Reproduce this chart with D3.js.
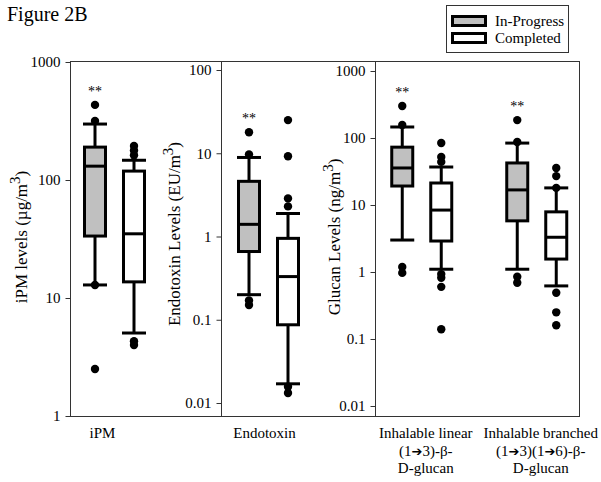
<!DOCTYPE html>
<html>
<head>
<meta charset="utf-8">
<script src="https://cdn.jsdelivr.net/npm/d3@7"></script>
<style>
  html, body { margin: 0; padding: 0; background: #fff; }
  svg { display: block; }
  svg text { font-family: "Liberation Serif", "Times New Roman", serif; }
  svg text tspan.arrow { font-family: "DejaVu Sans", sans-serif; }
</style>
</head>
<body>
<svg id="chart" width="601" height="482"></svg>
<script>
// ---------------- DATA ----------------
const panels = ["iPM", "Endotoxin", "Glucan"];
const categories = ["iPM", "Endotoxin", "linear", "branched"];
const categoryPanel = [0, 1, 2, 2];
const categoryLabels = [
  ["iPM"],
  ["Endotoxin"],
  ["Inhalable linear", "(1\u27943)-\u03b2-", "D-glucan"],
  ["Inhalable branched", "(1\u27943)(1\u27946)-\u03b2-", "D-glucan"]
];
const series = ["In-Progress", "Completed"];

// one entry per box: category index, series index
const boxCategory = [0, 0, 1, 1, 2, 2, 3, 3];
const boxSeries   = [0, 1, 0, 1, 0, 1, 0, 1];
const whiskerLow  = [12.9, 5.05, 0.20, 0.017, 3.0, 1.1, 1.1, 0.62];
const q1          = [33.5, 13.7, 0.66, 0.087, 19.2, 2.9, 5.8, 1.56];
const median      = [131, 35, 1.4, 0.33, 35.7, 8.4, 16.8, 3.3];
const q3          = [190, 119, 4.6, 0.95, 73, 21.3, 42.4, 7.9];
const whiskerHigh = [298, 147, 8.9, 1.89, 146, 36.9, 84, 18];
const outliers = [
  [433, 316, 12.9, 2.5],
  [194, 178, 162, 4.3, 4.0],
  [17.9, 9.7, 0.17, 0.15],
  [25, 9.2, 2.87, 2.3, 0.0157, 0.0132],
  [300, 156, 1.19, 0.97],
  [84, 52, 44, 0.93, 0.82, 0.6, 0.14],
  [185, 87, 0.85, 0.69],
  [35.7, 27, 18, 0.49, 0.25, 0.16]
];
const significant = ["**", "", "**", "", "**", "", "**", ""];

const yDomains = [[1, 1000], [0.01, 100], [0.01, 1000]];
const yTicks = [[1, 10, 100, 1000], [0.01, 0.1, 1, 10, 100], [0.01, 0.1, 1, 10, 100, 1000]];
const yTitles = [
  ["iPM levels (\u00b5g/m", "3", ")"],
  ["Endotoxin Levels (EU/m", "3", ")"],
  ["Glucan Levels (ng/m", "3", ")"]
];
const figureTitle = "Figure 2B";

// ---------------- LAYOUT ----------------
const frameTop = 61, frameBottom = 416;
const panelX = [[70, 221], [221, 375], [375, 579]];
const yRanges = [[416, 62], [403, 70], [406, 71]];
const panelCatRange = [[114.5, 114.5], [268.5, 268.5], [421.75, 536.75]];
const titleX = [27, 180, 340];
const titleCenterY = [237, 234, 237];
const boxW = 21;

const svg = d3.select("#chart");
const ink = "#000";
const frameColor = "#333";

// Title
svg.append("text").attr("x", 7).attr("y", 21).attr("font-size", 20).attr("fill", ink).text(figureTitle);

// scales
const yScales = yDomains.map((d, i) => d3.scaleLog().domain(d).range(yRanges[i]));
const xScales = panels.map((p, i) => {
  const cats = categories.filter((c, k) => categoryPanel[k] === i);
  return d3.scalePoint().domain(cats).range(panelCatRange[i]).align(0.5);
});
const sScale = d3.scaleBand().domain(series).range([-31.5, 31.5]).paddingInner(15 / 39);
const fills = d3.scaleOrdinal().domain(series).range(["#c0c0c0", "#ffffff"]);

// frame
const frame = svg.append("g").attr("stroke", frameColor).attr("stroke-width", 1).attr("fill", "none");
frame.append("line").attr("x1", panelX[0][0]).attr("x2", panelX[2][1]).attr("y1", frameTop + 0.5).attr("y2", frameTop + 0.5);
frame.append("line").attr("x1", panelX[0][0]).attr("x2", panelX[2][1]).attr("y1", frameBottom + 0.5).attr("y2", frameBottom + 0.5);
[panelX[0][0], panelX[1][0], panelX[2][0], panelX[2][1]].forEach(x => {
  frame.append("line").attr("x1", x + 0.5).attr("x2", x + 0.5).attr("y1", frameTop).attr("y2", frameBottom + 1);
});

// axes
panels.forEach((p, i) => {
  const axis = d3.axisLeft(yScales[i]).tickValues(yTicks[i]).tickFormat(d3.format("~g"))
    .tickSize(5).tickSizeOuter(0).tickPadding(5);
  const g = svg.append("g").attr("transform", `translate(${panelX[i][0] + 0.5},0)`).call(axis);
  g.select(".domain").remove();
  g.selectAll(".tick line").attr("stroke", frameColor);
  g.selectAll(".tick text").attr("font-size", 15).attr("fill", ink);

  const t = svg.append("text")
    .attr("transform", `translate(${titleX[i]},${titleCenterY[i]}) rotate(-90)`)
    .attr("text-anchor", "middle")
    .attr("font-size", 17).attr("fill", ink);
  t.append("tspan").text(yTitles[i][0]);
  t.append("tspan").attr("dy", -7).attr("font-size", 15).text(yTitles[i][1]);
  t.append("tspan").attr("dy", 7).text(yTitles[i][2]);
});

// boxes
const boxes = d3.range(boxCategory.length).map(k => {
  const c = boxCategory[k], p = categoryPanel[c];
  return {
    k, p, s: series[boxSeries[k]],
    cx: xScales[p](categories[c]) + sScale(series[boxSeries[k]]) + sScale.bandwidth() / 2,
    y: yScales[p]
  };
});

const gB = svg.append("g").attr("stroke", ink).attr("stroke-width", 3);
boxes.forEach(b => {
  const k = b.k, y = b.y, cx = b.cx;
  gB.append("line").attr("x1", cx).attr("x2", cx).attr("y1", y(whiskerHigh[k])).attr("y2", y(q3[k]));
  gB.append("line").attr("x1", cx).attr("x2", cx).attr("y1", y(q1[k])).attr("y2", y(whiskerLow[k]));
  gB.append("line").attr("x1", cx - 12).attr("x2", cx + 12).attr("y1", y(whiskerHigh[k])).attr("y2", y(whiskerHigh[k]));
  gB.append("line").attr("x1", cx - 12).attr("x2", cx + 12).attr("y1", y(whiskerLow[k])).attr("y2", y(whiskerLow[k]));
  gB.append("rect").attr("x", cx - boxW / 2).attr("width", boxW)
    .attr("y", y(q3[k])).attr("height", y(q1[k]) - y(q3[k]))
    .attr("fill", fills(b.s));
  gB.append("line").attr("x1", cx - boxW / 2).attr("x2", cx + boxW / 2).attr("y1", y(median[k])).attr("y2", y(median[k]));
  outliers[k].forEach(v => {
    svg.append("circle").attr("cx", cx).attr("cy", y(v)).attr("r", 4.2).attr("fill", ink);
  });
  if (significant[k]) {
    svg.append("text").attr("x", cx).attr("y", y(d3.max(outliers[k])) - 9)
      .attr("text-anchor", "middle").attr("font-size", 14).attr("fill", ink).text(significant[k]);
  }
});

// category labels
categories.forEach((c, i) => {
  const p = categoryPanel[i];
  const x = xScales[p](c) + (i === 0 ? -12 : i === 1 ? -4 : 4);
  const t = svg.append("text").attr("text-anchor", "middle").attr("font-size", 15).attr("fill", ink);
  categoryLabels[i].forEach((line, j) => {
    const ts = t.append("tspan").attr("x", x).attr("y", 438 + j * 17.5);
    line.split(/(\u2794)/).forEach(part => {
      if (part === "\u2794") ts.append("tspan").attr("class", "arrow").attr("font-size", 13).text(part);
      else if (part) ts.append("tspan").text(part);
    });
  });
});

// legend
const lg = svg.append("g");
lg.append("rect").attr("x", 446.5).attr("y", 5.5).attr("width", 122).attr("height", 47)
  .attr("fill", "#fff").attr("stroke", frameColor).attr("stroke-width", 1);
series.forEach((s, i) => {
  lg.append("rect").attr("x", 452.5).attr("y", 16.5 + i * 17).attr("width", 33).attr("height", 9)
    .attr("fill", fills(s)).attr("stroke", ink).attr("stroke-width", 3);
  lg.append("text").attr("x", 495).attr("y", 26 + i * 17).attr("font-size", 15).attr("fill", ink).text(s);
});
</script>
</body>
</html>
